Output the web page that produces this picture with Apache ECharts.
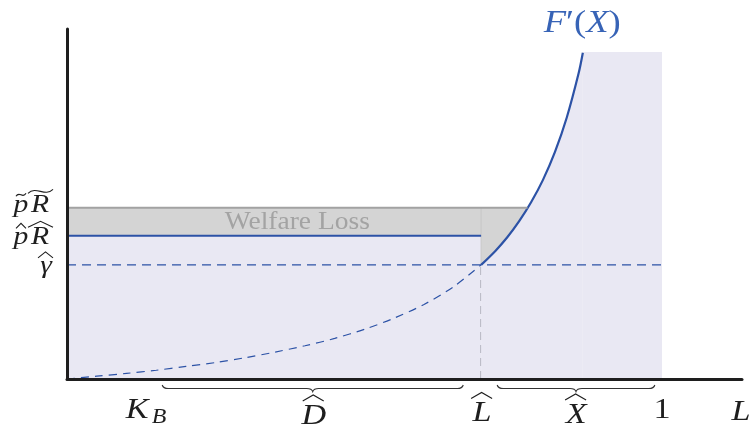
<!DOCTYPE html>
<html>
<head>
<meta charset="utf-8">
<script src="https://cdn.jsdelivr.net/npm/echarts@6/dist/echarts.min.js"></script>
<style>
  html, body { margin: 0; padding: 0; background: #fff; }
  #chart { width: 751px; height: 430px; }
</style>
</head>
<body>
<div id="chart"></div>
<script>
// levels on the vertical axis
var gammaHat = 0.326;
var pRhat = 0.409;
var pRtilde = 0.489;
// points on the horizontal axis
var Lhat = 0.696;
var xCross = 0.774;   // F'(X) meets p~R~
var xEnd = 0.867;     // drawn F'(X) stops here
var yTop = 0.934;     // top of the shaded box right of F'(X)
var xOne = 1;
var xMax = 1.1345;

// F'(X), dashed part (0 .. L^)
var dashX = [0, 0.05, 0.1, 0.15, 0.2, 0.25, 0.3, 0.35, 0.4, 0.45, 0.5, 0.55, 0.6, 0.65, 0.696];
var dashY = [0, 0.008, 0.016, 0.025, 0.036, 0.047, 0.061, 0.077, 0.095, 0.116, 0.142, 0.174, 0.213, 0.264, 0.326];
// F'(X), solid part (L^ .. end)
var solidX = [0.696, 0.72, 0.74, 0.76, 0.78, 0.8, 0.82, 0.84, 0.86, 0.867];
var solidY = [0.326, 0.366, 0.405, 0.451, 0.505, 0.569, 0.648, 0.747, 0.874, 0.932];

// braces under the axis
var braceD = [0.160, 0.666];
var braceX = [0.723, 0.988];

// tick labels
var xTickPos = [0.133, 0.413, 0.696, 0.854, 1, 1.131];
var xTickText = ['K_B', '^D', '^L', '^X', '1', 'L'];
var yTickPos = [pRtilde, pRhat, gammaHat];
var yTickText = ['~p~R', '^p^R', '^γ'];

var notePos = [[0.387, 0.446], [0.866, 1.014]];
var noteText = ['Welfare Loss', 'F′(X)'];

var blue = '#2c52a6';
var lavender = '#e9e8f3';
var ink = '#1e1e1e';
var itFont = function (s) { return 'italic ' + s + 'px "Liberation Serif"'; };
var rmFont = function (s) { return s + 'px "Liberation Serif"'; };

function zip(a, b) {
  return a.map(function (v, i) { return [v, b[i]]; });
}

// text stretched a little sideways, closer to the wide TeX glyphs
function txt(s, x, y, font, color, sx) {
  return {
    type: 'text', x: x, y: y, scaleX: sx || 1.14,
    style: { text: s, font: font, fill: color || ink, align: 'center', verticalAlign: 'middle' }
  };
}
function hat(x1, x2, yb, h) {
  return {
    type: 'polyline',
    shape: { points: [[x1, yb], [(x1 + x2) / 2, yb - h], [x2, yb]] },
    style: { stroke: ink, lineWidth: 1.1, fill: null }
  };
}
function tilde(x1, x2, yb, h) {
  var w = x2 - x1;
  return {
    type: 'bezierCurve',
    shape: { x1: x1, y1: yb, cpx1: x1 + w * 0.33, cpy1: yb - h * 2, cpx2: x1 + w * 0.67, cpy2: yb + h, x2: x2, y2: yb - h },
    style: { stroke: ink, lineWidth: 1.1, fill: null }
  };
}

// vertical offsets of the x labels below the axis (layout only)
var xLabelDy = [31, 37, 34.5, 36, 31, 33.5];

function xLabel(i, px, py) {
  var t = xTickText[i];
  var dy = xLabelDy[i];
  var kids = [];
  if (t.indexOf('_') > 0) {
    var parts = t.split('_');
    kids.push(txt(parts[0], px - 9, py + dy, itFont(30)));
    kids.push(txt(parts[1], px + 13, py + dy + 7, itFont(21)));
  } else if (t.charAt(0) === '^') {
    kids.push(txt(t.slice(1), px + 1, py + dy, itFont(30)));
    kids.push(hat(px - 10, px + 11, py + dy - 15, 6));
  } else if (/[0-9]/.test(t)) {
    kids.push(txt(t, px, py + dy, rmFont(30)));
  } else {
    kids.push(txt(t, px + 1, py + dy, itFont(30)));
  }
  return { type: 'group', children: kids };
}

function yLabel(i, px, py) {
  var t = yTickText[i];
  var kids = [];
  if (t.length === 4) {
    var acc = t.charAt(0);
    var dy = i === 0 ? -2.5 : 1.5;
    var cy = py + dy;
    kids.push(txt(t.charAt(1), px - 46, cy, itFont(26)));
    kids.push(txt(t.charAt(3), px - 27, cy, itFont(26)));
    if (acc === '~') {
      kids.push(tilde(px - 51, px - 41, cy - 9, 3));
      kids.push(tilde(px - 39, px - 14, cy - 12, 4));
    } else {
      kids.push(hat(px - 51, px - 41, cy - 9, 5));
      kids.push(hat(px - 39, px - 14, cy - 10, 6));
    }
  } else {
    kids.push(txt(t.charAt(1), px - 21, py + 1, itFont(26)));
    kids.push(hat(px - 29, px - 14, py - 7, 6));
  }
  return { type: 'group', children: kids };
}

function braceShape(a, b, yt) {
  var m = (a + b) / 2;
  var yl = yt + 3.5;
  var d = 'M' + a + ' ' + yt +
    ' Q' + (a + 1) + ' ' + yl + ' ' + (a + 6) + ' ' + yl +
    ' L' + (m - 6) + ' ' + yl +
    ' Q' + (m - 1) + ' ' + yl + ' ' + m + ' ' + (yt + 6.5) +
    ' Q' + (m + 1) + ' ' + yl + ' ' + (m + 6) + ' ' + yl +
    ' L' + (b - 6) + ' ' + yl +
    ' Q' + (b - 1) + ' ' + yl + ' ' + b + ' ' + yt;
  return { type: 'path', shape: { pathData: d }, style: { stroke: '#333', lineWidth: 1.1, fill: null } };
}

// filled regions, in data coordinates
var regions = [
  { color: '#d4d4d4', pts: [[0, pRhat], [0, pRtilde], [xCross, pRtilde], [xCross, gammaHat], [Lhat, gammaHat], [Lhat, pRhat]] },
  { color: lavender, pts: [[0, 0], [0, pRhat], [Lhat, pRhat], [Lhat, 0]] },
  { color: lavender, pts: [[xEnd, 0], [xEnd, yTop], [xOne, yTop], [xOne, 0]] }
];

var chart = echarts.init(document.getElementById('chart'));

var option = {
  animation: false,
  backgroundColor: '#fff',
  grid: { left: 67, right: 9, top: 29, bottom: 51, outerBoundsMode: 'none' },
  xAxis: {
    type: 'value', min: 0, max: xMax, z: 10,
    axisLine: { show: true, lineStyle: { color: ink, width: 3 } },
    axisTick: { show: false }, axisLabel: { show: false }, splitLine: { show: false }
  },
  yAxis: {
    type: 'value', min: 0, max: 1, z: 10,
    axisLine: { show: true, lineStyle: { color: ink, width: 3 } },
    axisTick: { show: false }, axisLabel: { show: false }, splitLine: { show: false }
  },
  series: [
    {
      name: 'regions', type: 'custom', z: 1, silent: true,
      data: regions.map(function (r, i) { return [i]; }),
      renderItem: function (params, api) {
        var r = regions[params.dataIndex];
        return {
          type: 'polygon',
          shape: { points: r.pts.map(function (p) { return api.coord(p); }) },
          style: { fill: r.color }
        };
      }
    },
    {
      name: 'F solid', type: 'line', z: 3, smooth: 0.3, symbol: 'none',
      data: zip(solidX, solidY),
      lineStyle: { color: blue, width: 2.2 },
      areaStyle: { color: lavender, opacity: 1 }
    },
    {
      name: 'F dashed', type: 'line', z: 3, smooth: 0.3, symbol: 'none',
      data: zip(dashX, dashY),
      lineStyle: { color: blue, width: 1.2, type: [8, 6] }
    },
    {
      name: 'pRhat', type: 'line', z: 3, symbol: 'none',
      data: [[0, pRhat], [Lhat, pRhat]],
      lineStyle: { color: blue, width: 2 }
    },
    {
      name: 'gammaHat', type: 'line', z: 3, symbol: 'none',
      data: [[0, gammaHat], [xOne, gammaHat]],
      lineStyle: { color: blue, width: 1.2, type: [9, 6] }
    },
    {
      name: 'pRtilde', type: 'line', z: 3, symbol: 'none',
      data: [[0, pRtilde], [xCross, pRtilde]],
      lineStyle: { color: '#a2a2a2', width: 2 }
    },
    {
      name: 'Lhat', type: 'line', z: 2, symbol: 'none',
      data: [[Lhat, 0], [Lhat, gammaHat]],
      lineStyle: { color: '#ababb5', width: 1.6, type: [8, 5] }
    },
    {
      name: 'Lhat faint', type: 'line', z: 2, symbol: 'none',
      data: [[Lhat, gammaHat], [Lhat, pRtilde]],
      lineStyle: { color: '#c6c6c6', width: 1 }
    },
    {
      name: 'braces', type: 'custom', z: 4, silent: true,
      data: [braceD, braceX],
      renderItem: function (params, api) {
        var a = api.coord([api.value(0), 0]);
        var b = api.coord([api.value(1), 0]);
        return braceShape(a[0], b[0], a[1] + 6);
      }
    },
    {
      name: 'x labels', type: 'custom', z: 4, silent: true,
      data: xTickPos.map(function (v) { return [v, 0]; }),
      renderItem: function (params, api) {
        var p = api.coord([api.value(0), api.value(1)]);
        return xLabel(params.dataIndex, p[0], p[1]);
      }
    },
    {
      name: 'y labels', type: 'custom', z: 4, silent: true,
      data: yTickPos.map(function (v) { return [0, v]; }),
      renderItem: function (params, api) {
        var p = api.coord([api.value(0), api.value(1)]);
        return yLabel(params.dataIndex, p[0], p[1]);
      }
    },
    {
      name: 'notes', type: 'custom', z: 4, silent: true,
      data: notePos,
      renderItem: function (params, api) {
        var p = api.coord([api.value(0), api.value(1)]);
        if (params.dataIndex === 0) {
          return txt(noteText[0], p[0], p[1], rmFont(25), '#a3a3a3', 1.1);
        }
        return {
          type: 'text', x: p[0], y: p[1], scaleX: 1.18,
          style: {
            text: '{i|F}{r|′(}{i|X}{r|)}',
            align: 'center', verticalAlign: 'middle', fill: '#3763b6',
            rich: {
              i: { font: itFont(31), fill: '#3763b6' },
              r: { font: rmFont(31), fill: '#3763b6' }
            }
          }
        };
      }
    }
  ]
};

option && chart.setOption(option);
</script>
</body>
</html>
